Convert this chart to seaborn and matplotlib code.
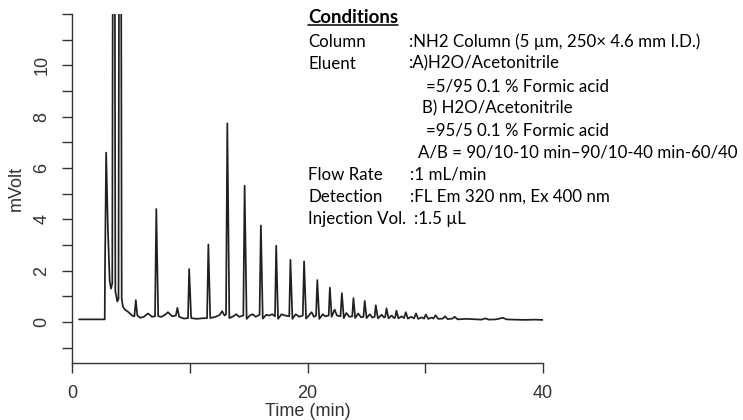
import matplotlib
matplotlib.use("Agg")
import matplotlib.pyplot as plt
from matplotlib.lines import Line2D
import numpy as np
import pandas as pd
import seaborn as sns

# Labelled peak apexes (retention time in min, signal in mV); the two
# solvent-front peaks run far off scale and are clipped by the axes.
peak_time = [2.90, 3.55, 4.08, 5.42, 6.45, 7.16, 8.15, 8.95, 9.95, 11.58,
             12.75, 13.19, 14.66, 16.04, 17.34, 18.55, 19.71, 20.83, 21.90,
             22.92, 23.90, 24.86, 25.80, 26.71, 27.55, 28.35, 29.22, 30.05,
             30.88, 31.68, 32.50]
peak_mv = [6.6, 40.0, 40.0, 0.85, 0.33, 4.40, 0.38, 0.55, 2.06, 3.02,
           0.42, 7.74, 5.31, 3.76, 2.97, 2.42, 2.36, 1.63, 1.34,
           1.12, 0.93, 0.82, 0.65, 0.53, 0.44, 0.38, 0.33, 0.29,
           0.26, 0.22, 0.20]

# Baseline, valleys and peak feet between the apexes
base_time = [0.60, 2.78, 2.80, 3.05, 3.20, 3.31, 3.42, 3.68, 3.85, 3.95,
             4.22, 4.32, 4.50, 4.80, 5.10, 5.30, 5.55, 5.80, 6.10, 6.80,
             7.05, 7.32, 7.60, 7.90, 8.50, 8.82, 9.10, 9.50, 9.85, 10.12,
             10.60, 11.00, 11.47, 11.74, 12.20, 12.55, 12.95, 13.08, 13.36,
             13.70, 13.95, 14.20, 14.55, 14.83, 15.10, 15.35, 15.60, 15.93,
             16.20, 16.50, 16.75, 17.00, 17.24, 17.50, 17.80, 18.10, 18.45,
             18.72, 19.00, 19.30, 19.60, 19.88, 20.10, 20.35, 20.55, 20.73,
             21.00, 21.30, 21.50, 21.80, 22.05, 22.30, 22.50, 22.80, 23.08,
             23.30, 23.55, 23.80, 24.05, 24.30, 24.55, 24.75, 25.02, 25.30,
             25.50, 25.70, 25.98, 26.30, 26.50, 26.60, 26.88, 27.15, 27.35,
             27.45, 27.72, 28.00, 28.20, 28.52, 28.80, 29.05, 29.40, 29.70,
             29.90, 30.25, 30.55, 30.70, 31.10, 31.50, 31.90, 32.30, 32.75,
             33.50, 34.30, 34.80, 35.10, 35.40, 36.00, 36.60, 36.90, 37.50,
             38.50, 39.30, 40.00]
base_mv = [0.10, 0.10, 2.00, 3.60, 1.60, 1.30, 1.50, 1.20, 0.80, 0.90,
           0.90, 0.60, 0.48, 0.38, 0.25, 0.22, 0.25, 0.16, 0.20, 0.20,
           0.22, 0.22, 0.20, 0.28, 0.22, 0.25, 0.20, 0.13, 0.15, 0.15,
           0.12, 0.14, 0.15, 0.15, 0.20, 0.28, 0.25, 0.30, 0.15,
           0.22, 0.30, 0.20, 0.25, 0.12, 0.25, 0.30, 0.20, 0.28,
           0.13, 0.28, 0.25, 0.30, 0.22, 0.12, 0.30, 0.25, 0.22,
           0.12, 0.30, 0.20, 0.25, 0.13, 0.25, 0.38, 0.20, 0.25,
           0.12, 0.30, 0.22, 0.25, 0.20, 0.48, 0.25, 0.22, 0.15,
           0.35, 0.20, 0.22, 0.15, 0.33, 0.18, 0.20, 0.15, 0.30,
           0.17, 0.20, 0.14, 0.28, 0.17, 0.20, 0.14, 0.25, 0.15,
           0.18, 0.14, 0.22, 0.15, 0.13, 0.20, 0.14, 0.12, 0.18,
           0.13, 0.12, 0.17, 0.13, 0.12, 0.13, 0.11, 0.13, 0.10,
           0.12, 0.10, 0.09, 0.14, 0.09, 0.10, 0.16, 0.10, 0.09,
           0.08, 0.09, 0.08]

x_ticks = [0, 10, 20, 30, 40]
x_ticklabels = ["0", "", "20", "", "40"]
y_ticks = list(range(-1, 13))
y_ticklabels = ["", "0", "", "2", "", "4", "", "6", "", "8", "", "10", "", ""]

condition_labels = ["Column", "Eluent", "", "", "", "", "Flow Rate",
                    "Detection", "Injection Vol."]
condition_values = [":NH2 Column (5 µm, 250× 4.6 mm I.D.)",
                    ":A)H2O/Acetonitrile",
                    "=5/95 0.1 % Formic acid",
                    "B) H2O/Acetonitrile",
                    "=95/5 0.1 % Formic acid",
                    "A/B = 90/10-10 min–90/10-40 min-60/40",
                    ":1 mL/min",
                    ":FL Em 320 nm, Ex 400 nm",
                    ":1.5 µL"]
value_x_px = [409, 409, 426, 421.5, 426.5, 418, 410.5, 410.5, 414.5]

sns.set_theme(style="ticks")
plt.rcParams["font.family"] = ["Liberation Sans", "DejaVu Sans"]

W, H = 743, 420
fig = plt.figure(figsize=(W / 100, H / 100), dpi=100)
ax = fig.add_axes([72 / W, (H - 363) / H, (543 - 72) / W, (363 - 14) / H])

trace = pd.DataFrame({
    "time": list(base_time) + list(peak_time),
    "mv": list(base_mv) + list(peak_mv),
}).sort_values("time")

ink = "#231f20"
sns.lineplot(data=trace, x="time", y="mv", sort=False, estimator=None,
             color=ink, linewidth=1.25, ax=ax)

ax.set_xlim(0, 40)
ax.set_ylim(-1.6, 12)
ax.set_xticks(x_ticks)
ax.set_xticklabels(x_ticklabels)
ax.set_yticks(y_ticks)
ax.set_yticklabels(y_ticklabels, rotation=90, va="center")
sns.despine(ax=ax)
for side in ("left", "bottom"):
    ax.spines[side].set_color("#333333")
    ax.spines[side].set_linewidth(1.0)
ax.tick_params(axis="both", length=7, width=1.0, color="#333333",
               labelsize=13, labelcolor="#333333", pad=8.5)
ax.set_xlabel("Time (min)", fontsize=13, color="#333333", labelpad=1)
ax.set_ylabel("mVolt", fontsize=13, color="#333333", labelpad=6)

# Conditions block
body_font = ["Lato", "DejaVu Sans"]
fs = 12.2
x_lab = 308 / W
title = fig.text(x_lab, 1 - 22.7 / H, "Conditions", fontsize=13.4,
                 fontweight="bold", family=body_font, color="black",
                 va="baseline", ha="left")
for i, (lab, val) in enumerate(zip(condition_labels, condition_values)):
    yb = 1 - (46.7 + 22.2 * i) / H
    if lab:
        fig.text(x_lab, yb, lab, fontsize=fs, family=body_font,
                 color="black", va="baseline", ha="left")
    fig.text(value_x_px[i] / W, yb, val, fontsize=fs,
             family=body_font, color="black", va="baseline", ha="left")

fig.canvas.draw()
bb = title.get_window_extent(fig.canvas.get_renderer())
fig.add_artist(Line2D([bb.x0 / W, bb.x1 / W], [1 - 25.2 / H, 1 - 25.2 / H],
                      transform=fig.transFigure, color="black", linewidth=1.1))

fig.savefig("out.png", dpi=100)
